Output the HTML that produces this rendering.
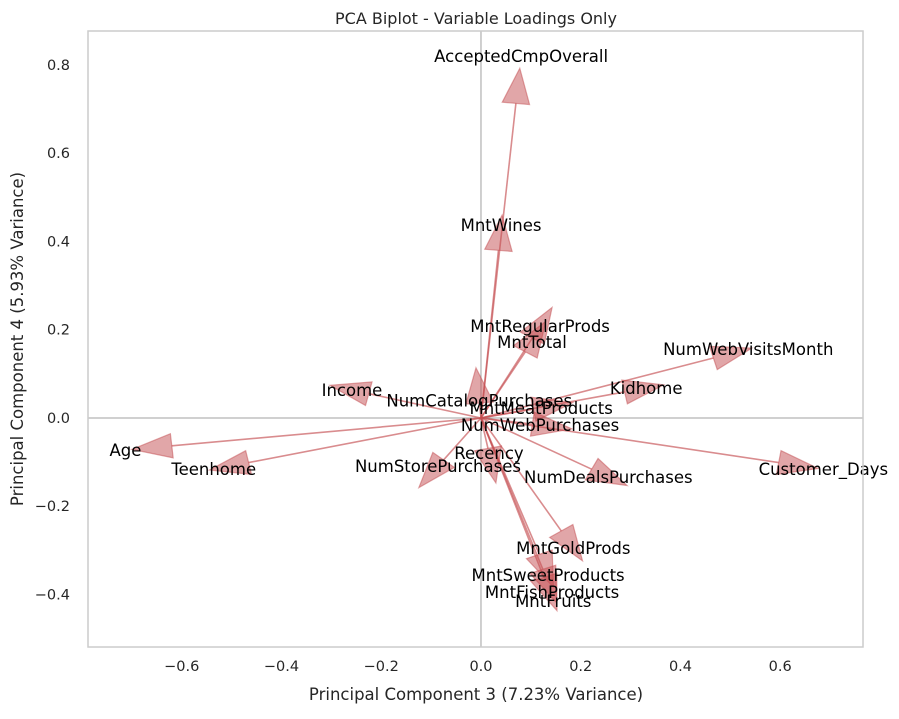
<!DOCTYPE html>
<html><head><meta charset="utf-8"><style>
body{margin:0;background:#fff;}
svg text{font-family:"DejaVu Sans","Liberation Sans",sans-serif;}
</style></head><body>
<svg id="chart" width="899" height="714" xmlns="http://www.w3.org/2000/svg">
<rect width="899" height="714" fill="#fff"/>
<text x="476" y="24" font-size="16" text-anchor="middle" fill="#262626">PCA Biplot - Variable Loadings Only</text>
<text x="476" y="700" font-size="16.5" text-anchor="middle" fill="#262626">Principal Component 3 (7.23% Variance)</text>
<text transform="translate(23,339) rotate(-90)" font-size="16.5" text-anchor="middle" fill="#262626">Principal Component 4 (5.93% Variance)</text>
<g id="ticks"></g>
<g id="plot"></g>
<rect x="88" y="31" width="775" height="616" fill="none" stroke="#cccccc" stroke-width="1.5"/>
</svg>
<script>
const names = ["AcceptedCmpOverall","MntWines","MntRegularProds","MntTotal","NumWebVisitsMonth","Kidhome","Income","NumCatalogPurchases","MntMeatProducts","NumWebPurchases","Recency","NumStorePurchases","NumDealsPurchases","Customer_Days","Teenhome","Age","MntGoldProds","MntSweetProducts","MntFishProducts","MntFruits"];
const pc3 = [0.070,0.035,0.103,0.089,0.466,0.288,-0.225,-0.003,0.105,0.103,0.014,-0.075,0.222,0.597,-0.466,-0.620,0.161,0.117,0.124,0.126];
const pc4 = [0.713,0.380,0.181,0.150,0.136,0.059,0.055,0.034,0.020,-0.014,-0.069,-0.095,-0.116,-0.101,-0.101,-0.063,-0.256,-0.309,-0.343,-0.361];
const xTicks = [-0.6,-0.4,-0.2,0.0,0.2,0.4,0.6];
const yTicks = [-0.4,-0.2,0.0,0.2,0.4,0.6,0.8];
const X0=88,X1=863,Y0=31,Y1=647, xmin=-0.788,xmax=0.766,ymin=-0.519,ymax=0.877;
const sx=v=>X0+(v-xmin)/(xmax-xmin)*(X1-X0);
const sy=v=>Y1-(v-ymin)/(ymax-ymin)*(Y1-Y0);
const NS="http://www.w3.org/2000/svg";
const tg=document.getElementById('ticks'), pg=document.getElementById('plot');
function mk(tag,attrs,parent){const e=document.createElementNS(NS,tag);for(const k in attrs)e.setAttribute(k,attrs[k]);parent.appendChild(e);return e;}
const fmt=v=>(v<0?"\u2212":"")+Math.abs(v).toFixed(1);
xTicks.forEach(v=>{const t=mk('text',{x:sx(v),y:671,'font-size':14.5,'text-anchor':'middle',fill:'#262626'},tg);t.textContent=fmt(v);

});
yTicks.forEach(v=>{const t=mk('text',{x:70,y:sy(v)+5,'font-size':14.5,'text-anchor':'end',fill:'#262626'},tg);t.textContent=fmt(v);

});
const hx=mk('line',{x1:X0,x2:X1,y1:sy(0),y2:sy(0),stroke:'#a0a0a0','stroke-width':1},pg);


const vy=mk('line',{x1:sx(0),x2:sx(0),y1:Y0,y2:Y1,stroke:'#a0a0a0','stroke-width':1},pg);


const hw=0.055, hl=0.08;
names.forEach((n,i)=>{
  const x=pc3[i], y=pc4[i], L=Math.hypot(x,y)||1e-6, ux=x/L, uy=y/L, nx=-uy, ny=ux;
  const g=mk('g',{},pg);
  
  
  mk('line',{x1:sx(0),y1:sy(0),x2:sx(x),y2:sy(y),stroke:'rgba(196,78,82,0.65)','stroke-width':1.6},g);
  const pts=[[x+ux*hl,y+uy*hl],[x+nx*hw/2,y+ny*hw/2],[x-nx*hw/2,y-ny*hw/2]].map(p=>sx(p[0])+','+sy(p[1])).join(' ');
  mk('polygon',{points:pts,fill:'rgba(196,78,82,0.5)',stroke:'rgba(196,78,82,0.5)','stroke-width':1.2},g);
});
names.forEach((n,i)=>{
  const t=mk('text',{x:sx(pc3[i]*1.15),y:sy(pc4[i]*1.15)+6,'font-size':16.5,'text-anchor':'middle',fill:'#000'},pg);
  t.textContent=n;
  
  
});
</script>
</body></html>
